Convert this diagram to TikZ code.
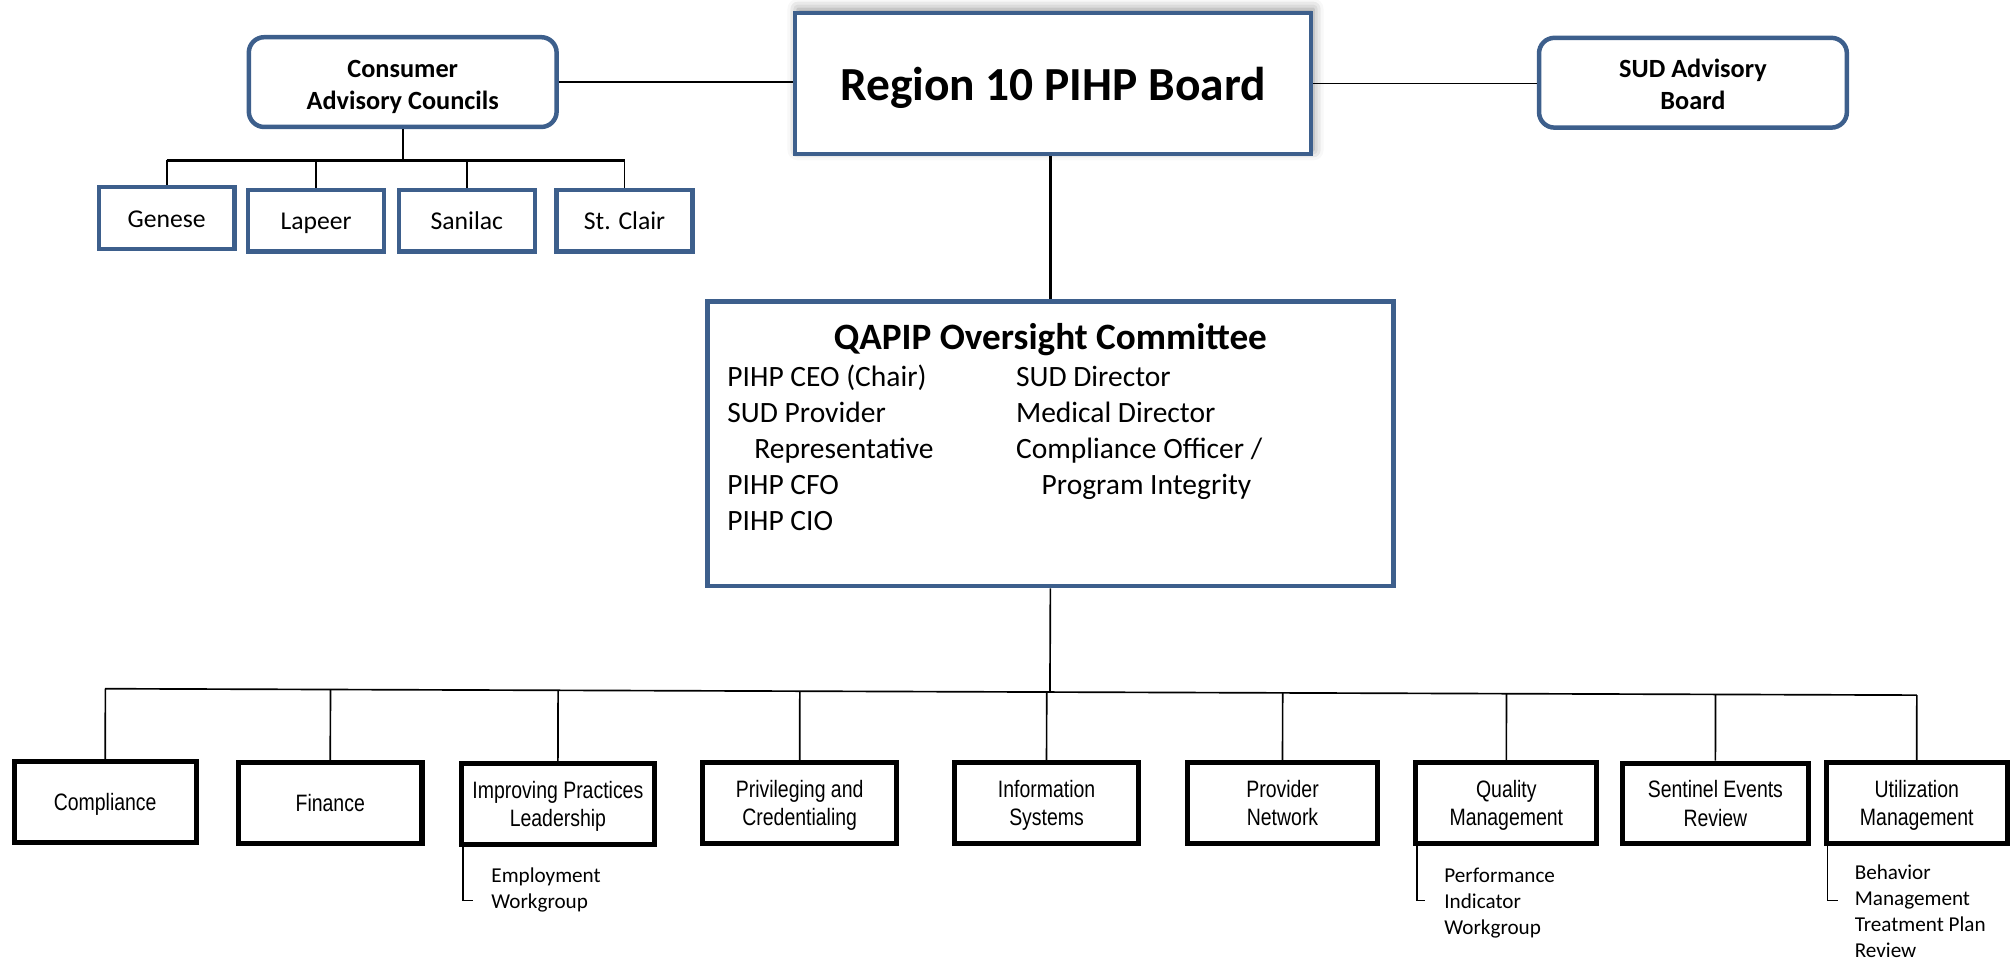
\documentclass[tikz,border=0pt]{standalone}
\usepackage{fontspec}
\setmainfont{Carlito}
\newfontfamily\narrowfont[FakeStretch=0.82]{Liberation Sans}
\usetikzlibrary{positioning, calc, shadows.blur}
\definecolor{boardblue}{RGB}{61,95,140}
\newcommand{\tallstrut}{\rule{0pt}{21pt}}

\begin{document}
\begin{tikzpicture}[x=1pt, y=-1pt,
    every node/.style={inner sep=0pt, align=center},
    bluebox/.style={draw=boardblue, line width=3.5pt, fill=white},
    council/.style={bluebox, rounded corners=12pt, minimum width=240pt, minimum height=70pt, font=\fontsize{20.5}{25}\selectfont\bfseries},
    county/.style={bluebox, minimum width=106pt, minimum height=48pt, font=\fontsize{20}{24}\selectfont, text height=14pt, text depth=0pt},
    group/.style={draw, line width=4pt, minimum height=63pt, font=\narrowfont\fontsize{18.5}{22}\selectfont, text depth=0pt},
    member/.style={anchor=north west, align=left, font=\fontsize{23}{28}\selectfont},
    note/.style={anchor=north west, align=left, font=\fontsize{16.5}{20.3}\selectfont},
    link/.style={line width=1.3pt},
]
\useasboundingbox (0,0) rectangle (1568,749);

% Board and advisory bodies
\node (board) [bluebox, minimum width=402pt, minimum height=110pt, font=\fontsize{37}{44}\selectfont\bfseries, text depth=0pt,
    blur shadow={shadow xshift=2pt, shadow yshift=3pt, shadow blur radius=8pt, shadow opacity=45}] at (821,65) {Region 10 PIHP Board};
\node (cac) [council] at (314,64) {\tallstrut Consumer\\Advisory Councils};
\node (sud) [council] at (1320,64.5) {\strut SUD Advisory\\Board};

\draw[link] (cac.east) -- (cac.east -| board.west);
\draw[link] (board.east) -- (board.east -| sud.west);

% Counties under the councils
\node (genese) [county] at (130,170) {Genese};
\node (lapeer) [county] at (246.5,172) {Lapeer};
\node (sanilac) [county] at (364,172) {Sanilac};
\node (stclair) [county] at (487,172) {St. Clair};

\coordinate (cacbus) at (314,125);
\draw[link] (cac.south) -- (cacbus);
\draw[line width=2.5pt] (genese.north |- cacbus) -- (stclair.north |- cacbus);
\foreach \c in {genese, lapeer, sanilac, stclair}
    \draw[link] (\c.north |- cacbus) -- (\c.north);

% Oversight committee
\node (qapip) [bluebox, minimum width=535pt, minimum height=222pt] at (819,346) {};
\node (qtitle) [font=\fontsize{29}{35}\selectfont\bfseries] at (819,265) {QAPIP Oversight Committee};
\node (qleft) [member] at (567,281.5) {\strut PIHP CEO (Chair)\\SUD Provider\\\hspace*{21pt}Representative\\PIHP CFO\\PIHP CIO};
\node (qright) [member] at (792,281.5) {\strut SUD Director\\Medical Director\\Compliance Officer /\\\hspace*{20pt}Program Integrity};

\draw[line width=1.8pt] (qapip.north |- board.south) -- (qapip.north);

% Committees
\node (compliance) [group, minimum width=142pt] at (82,625.5) {Compliance};
\node (finance) [group, minimum width=143pt] at (257.5,626) {Finance};
\node (improving) [group, minimum width=150pt] at (435,627) {Improving Practices\\Leadership};
\node (privileging) [group, minimum width=151pt] at (623.5,626) {Privileging and\\Credentialing};
\node (infosys) [group, minimum width=144pt] at (816,626) {Information\\Systems};
\node (provider) [group, minimum width=148pt] at (1000,626) {Provider\\Network};
\node (quality) [group, minimum width=141pt] at (1174.5,626) {Quality\\Management};
\node (sentinel) [group, minimum width=145pt] at (1337.5,626.5) {Sentinel Events\\Review};
\node (utilization) [group, minimum width=141pt] at (1494.5,626) {Utilization\\Management};

\coordinate (busleft) at (82,537);
\coordinate (busright) at (1494.5,542);
\draw[link] (qapip.south) -- ($(busleft)!(qapip.south)!(busright)$);
\draw[link] (busleft) -- (busright);
\foreach \g in {compliance, finance, improving, privileging, infosys, provider, quality, sentinel, utilization}
    \draw[link] ($(busleft)!(\g.north)!(busright)$) -- (\g.north);

% Workgroups
\node (empnote) [note] at (383,674) {\strut Employment\\Workgroup};
\node (pinote) [note] at (1126,674) {\strut Performance\\Indicator\\Workgroup};
\node (bmnote) [note] at (1446,671) {\strut Behavior\\Management\\Treatment Plan\\Review};

\coordinate (emptick) at (369,702);
\coordinate (pitick) at (1111,702);
\coordinate (bmtick) at (1433,702);
\draw[link] ([xshift=3pt]improving.south west) |- (emptick);
\draw[link] ([xshift=3pt]quality.south west) |- (pitick);
\draw[link] ([xshift=3pt]utilization.south west) |- (bmtick);

\end{tikzpicture}
\end{document}
